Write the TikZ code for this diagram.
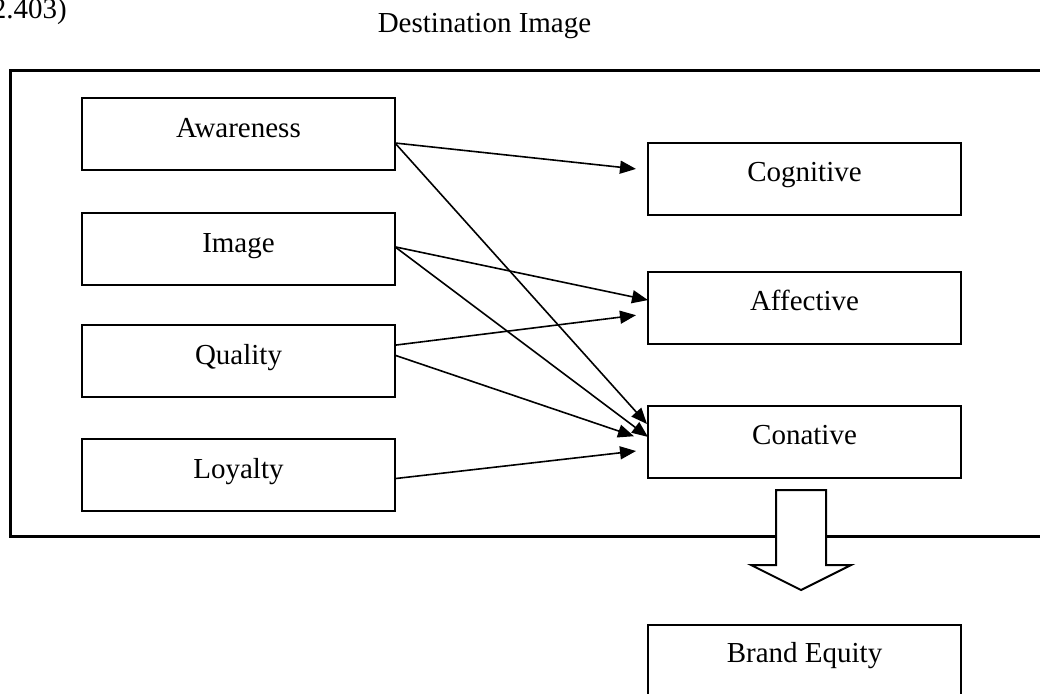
\documentclass[tikz,border=0pt]{standalone}
\usepackage{fontspec}
\setmainfont{Liberation Serif}
\usetikzlibrary{arrows.meta,calc}
\begin{document}
\begin{tikzpicture}[x=1pt,y=-1pt,
  font=\fontsize{29}{34}\selectfont,
  lbox/.style={draw, line width=2pt, inner sep=0pt, outer sep=0pt,
    minimum width=313pt, text height=39pt, text depth=33pt, anchor=north west},
  rbox/.style={lbox, text height=38pt, text depth=34pt},
  conn/.style={line width=1.6pt, -{Triangle[length=16pt,width=13pt]}},
  outer/.style={draw, line width=3pt},
  blockarrow/.style={draw, fill=white, line width=2pt, line join=miter}]
\useasboundingbox (0,0) rectangle (1040,693);

% texts
\node[anchor=base east, inner sep=0pt] (ref) at (67,19) {2.403)};
\node[anchor=base, inner sep=0pt] (title) at (484.5,33) {Destination Image};

% outer frame
\draw[outer] (10,70) rectangle (1052,536);

% left boxes
\node[lbox] (aw) at (82,98) {Awareness};
\node[lbox] (im) at (82,213) {Image};
\node[lbox] (qu) at (82,325) {Quality};
\node[lbox] (lo) at (82,439) {Loyalty};

% right boxes
\node[rbox] (cog) at (648,143) {Cognitive};
\node[rbox] (aff) at (648,272) {Affective};
\node[rbox] (con) at (648,406) {Conative};
\node[rbox, text height=37pt, text depth=35pt] (be) at (648,625) {Brand Equity};

% connectors
\draw[conn] ($(aw.north east)!0.625!(aw.south east)$) -- ($(cog.north west)!0.36!(cog.south west)+(-12pt,0)$);
\draw[conn] ($(aw.north east)!0.625!(aw.south east)$) -- ($(con.north west)!0.25!(con.south west)+(-1pt,0)$);
\draw[conn] ($(im.north east)!0.47!(im.south east)$) -- ($(aff.north west)!0.39!(aff.south west)$);
\draw[conn] ($(im.north east)!0.47!(im.south east)$) -- ($(con.north west)!0.43!(con.south west)$);
\draw[conn] ($(qu.north east)!0.28!(qu.south east)$) -- ($(aff.north west)!0.6!(aff.south west)+(-12pt,0)$);
\draw[conn] ($(qu.north east)!0.42!(qu.south east)$) -- ($(con.north west)!0.42!(con.south west)+(-14pt,0)$);
\draw[conn] ($(lo.north east)!0.55!(lo.south east)$) -- ($(con.north west)!0.625!(con.south west)+(-12pt,0)$);

% block arrow from Conative to Brand Equity
\draw[blockarrow] (776,490) -- (826,490) -- (826,565) -- (851,565) -- (801,590)
  -- (751,565) -- (776,565) -- cycle;
\end{tikzpicture}
\end{document}
